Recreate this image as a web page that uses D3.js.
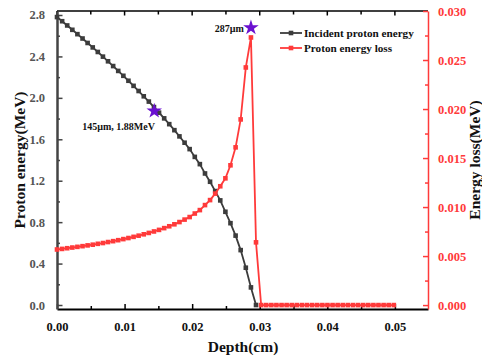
<!DOCTYPE html>
<html><head><meta charset="utf-8">
<script src="https://cdn.jsdelivr.net/npm/d3@7"></script>
<style>body{margin:0;background:#fff}svg{display:block}</style>
</head><body>
<svg id="c" width="482" height="361"></svg>
<script>
// depth in micrometres
const depthUm = [0,7.6,15.1,22.7,30.2,37.8,45.3,52.9,60.4,68.0,75.5,83.1,90.6,98.2,105.7,113.3,120.8,128.4,135.9,143.5,151.0,158.6,166.1,173.7,181.2,188.8,196.3,203.9,211.4,219.0,226.5,234.1,241.6,249.2,256.7,264.3,271.8,279.4,287.0,294.5,302.1,309.6,317.2,324.7,332.3,339.8,347.4,354.9,362.5,370.0,377.6,385.1,392.7,400.2,407.8,415.3,422.9,430.4,438.0,445.5,453.1,460.6,468.2,475.7,483.3,490.8,498.4];
// incident proton energy (MeV)
const protonEnergy = [2.78,2.740,2.699,2.657,2.615,2.573,2.530,2.487,2.443,2.398,2.353,2.307,2.260,2.213,2.165,2.116,2.066,2.015,1.964,1.911,1.857,1.802,1.746,1.688,1.628,1.567,1.505,1.43,1.36,1.27,1.19,1.10,1.01,0.90,0.79,0.67,0.53,0.36,0.17,0.0];
// proton energy loss (MeV)
const energyLoss = [0.00567,0.00573,0.00580,0.00587,0.00594,0.00601,0.00609,0.00616,0.00625,0.00633,0.00643,0.00652,0.00662,0.00673,0.00684,0.00696,0.00708,0.00722,0.00736,0.00751,0.00767,0.00785,0.00804,0.00824,0.00847,0.00872,0.00898,0.00934,0.00969,0.01020,0.01071,0.01137,0.01212,0.01293,0.01426,0.01609,0.01894,0.02424,0.0273,0.0064,0,0,0,0,0,0,0,0,0,0,0,0,0,0,0,0,0,0,0,0,0,0,0,0,0,0,0];
const xTicks = [0,0.01,0.02,0.03,0.04,0.05];
const xMinor = [0.005,0.015,0.025,0.035,0.045];
const leftTicks = [0,0.4,0.8,1.2,1.6,2.0,2.4,2.8];
const leftMinor = [0.2,0.6,1.0,1.4,1.8,2.2,2.6];
const rightTicks = [0,0.005,0.010,0.015,0.020,0.025,0.030];
const rightMinor = [0.0025,0.0075,0.0125,0.0175,0.0225,0.0275];
const seriesNames = ["Incident proton energy","Proton energy loss"];
const annotations = [
  {depth:0.01439, energy:1.873, axis:"left", text:"145\u00b5m, 1.88MeV"},
  {depth:0.0287, energy:0.0283, axis:"right", text:"287\u00b5m"}
];

const L=57,R=428,T=11,B=309;
const FONT="'Liberation Serif','Times New Roman',serif";
const BLK="#3c3c3c", RED="#ff3a3a", PUR="#6a10d0";
const svg=d3.select("#c");
const x=d3.scaleLinear().domain([0,0.0549]).range([L,R]);
const yL=d3.scaleLinear().domain([-0.0386,2.8386]).range([B,T]);
const yR=d3.scaleLinear().domain([-0.0004,0.0300]).range([B,T]);

const g=svg.append("g");
// top frame
g.append("line").attr("x1",L).attr("x2",R).attr("y1",T).attr("y2",T).attr("stroke","#000").attr("stroke-width",1.5);
// top ticks
xTicks.concat(xMinor).forEach(v=>{
  g.append("line").attr("x1",x(v)).attr("x2",x(v)).attr("y1",T).attr("y2",T+(xTicks.includes(v)?4.5:3.5)).attr("stroke","#000").attr("stroke-width",1.5);
});

// bottom axis
const bx=g.append("g").attr("transform",`translate(0,${B})`)
  .call(d3.axisBottom(x).tickValues(xTicks).tickFormat(d3.format(".2f")).tickSizeInner(-5).tickSizeOuter(0).tickPadding(13));
bx.select(".domain").attr("stroke","#000").attr("stroke-width",2);
bx.selectAll(".tick line").attr("stroke","#000").attr("stroke-width",1.5);
bx.selectAll("text").attr("font-family",FONT).attr("font-weight","bold").attr("font-size",12.5).attr("fill","#111");
const bxm=g.append("g").attr("transform",`translate(0,${B})`)
  .call(d3.axisBottom(x).tickValues(xMinor).tickFormat("").tickSizeInner(-3).tickSizeOuter(0));
bxm.select(".domain").remove();
bxm.selectAll(".tick line").attr("stroke","#000").attr("stroke-width",1.5);

// left axis
const ly=g.append("g").attr("transform",`translate(${L},0)`)
  .call(d3.axisLeft(yL).tickValues(leftTicks).tickFormat(d3.format(".1f")).tickSizeInner(-5.5).tickSizeOuter(0).tickPadding(12));
ly.select(".domain").attr("stroke","#444").attr("stroke-width",2.5);
ly.selectAll(".tick line").attr("stroke","#444").attr("stroke-width",1.5);
ly.selectAll("text").attr("font-family",FONT).attr("font-weight","bold").attr("font-size",12.5).attr("fill","#555");
const lym=g.append("g").attr("transform",`translate(${L},0)`)
  .call(d3.axisLeft(yL).tickValues(leftMinor).tickFormat("").tickSizeInner(-3).tickSizeOuter(0));
lym.select(".domain").remove();
lym.selectAll(".tick line").attr("stroke","#444").attr("stroke-width",1.5);

// right axis
const ry=g.append("g").attr("transform",`translate(${R},0)`)
  .call(d3.axisRight(yR).tickValues(rightTicks).tickFormat(d3.format(".3f")).tickSizeInner(-5).tickSizeOuter(0).tickPadding(10));
ry.select(".domain").attr("stroke",RED).attr("stroke-width",1.5);
ry.selectAll(".tick line").attr("stroke",RED).attr("stroke-width",1.5);
ry.selectAll("text").attr("font-family",FONT).attr("font-weight","bold").attr("font-size",12.5).attr("fill",RED);
const rym=g.append("g").attr("transform",`translate(${R},0)`)
  .call(d3.axisRight(yR).tickValues(rightMinor).tickFormat("").tickSizeInner(-3).tickSizeOuter(0));
rym.select(".domain").remove();
rym.selectAll(".tick line").attr("stroke",RED).attr("stroke-width",1.5);

// titles
svg.append("text").attr("x",243).attr("y",352).attr("text-anchor","middle")
  .attr("font-family",FONT).attr("font-weight","bold").attr("font-size",15.5).attr("fill","#111").text("Depth(cm)");
svg.append("text").attr("transform",`translate(25,160) rotate(-90)`).attr("text-anchor","middle")
  .attr("font-family",FONT).attr("font-weight","bold").attr("font-size",15.5).attr("fill","#111").text("Proton energy(MeV)");
svg.append("text").attr("transform",`translate(480,160) rotate(-90)`).attr("text-anchor","middle")
  .attr("font-family",FONT).attr("font-weight","bold").attr("font-size",15.5).attr("fill","#111").text("Energy loss(MeV)");

// series
const blackData=protonEnergy.map((v,i)=>[depthUm[i]/10000,v]);
const redData=energyLoss.map((v,i)=>[depthUm[i]/10000,v]);
const lineL=d3.line().x(d=>x(d[0])).y(d=>yL(d[1]));
const lineR=d3.line().x(d=>x(d[0])).y(d=>yR(d[1]));
const MS=4.6;
svg.append("path").datum(blackData).attr("d",lineL).attr("fill","none").attr("stroke",BLK).attr("stroke-width",1.8);
svg.append("g").selectAll("rect").data(blackData).join("rect")
  .attr("x",d=>x(d[0])-MS/2).attr("y",d=>yL(d[1])-MS/2).attr("width",MS).attr("height",MS).attr("fill",BLK);
svg.append("path").datum(redData).attr("d",lineR).attr("fill","none").attr("stroke",RED).attr("stroke-width",1.8);
svg.append("g").selectAll("rect").data(redData).join("rect")
  .attr("x",d=>x(d[0])-MS/2).attr("y",d=>yR(d[1])-MS/2).attr("width",MS).attr("height",MS).attr("fill",RED);

// stars + annotations
const star=d3.symbol().type(d3.symbolStar).size(75);
annotations.forEach((a,i)=>{
  const px=x(a.depth), py=(a.axis==="left"?yL:yR)(a.energy);
  svg.append("path").attr("d",star).attr("transform",`translate(${px},${py})`).attr("fill",PUR);
  if(i===0){
    svg.append("text").attr("x",px-72).attr("y",py+19).attr("font-family",FONT).attr("font-weight","bold").attr("font-size",10).attr("fill","#111").text(a.text);
  } else {
    svg.append("text").attr("x",px-7).attr("y",py+4).attr("text-anchor","end").attr("font-family",FONT).attr("font-weight","bold").attr("font-size",10).attr("fill","#111").text(a.text);
  }
});

// legend
const leg=svg.append("g");
[BLK,RED].forEach((c,i)=>{
  const yy=33+i*15;
  leg.append("line").attr("x1",280).attr("x2",302).attr("y1",yy).attr("y2",yy).attr("stroke",c).attr("stroke-width",1.8);
  leg.append("rect").attr("x",291-MS/2).attr("y",yy-MS/2).attr("width",MS).attr("height",MS).attr("fill",c);
  leg.append("text").attr("x",304).attr("y",yy+4).attr("font-family",FONT).attr("font-weight","bold").attr("font-size",11.2).attr("fill","#111").text(seriesNames[i]);
});
</script>
</body></html>
